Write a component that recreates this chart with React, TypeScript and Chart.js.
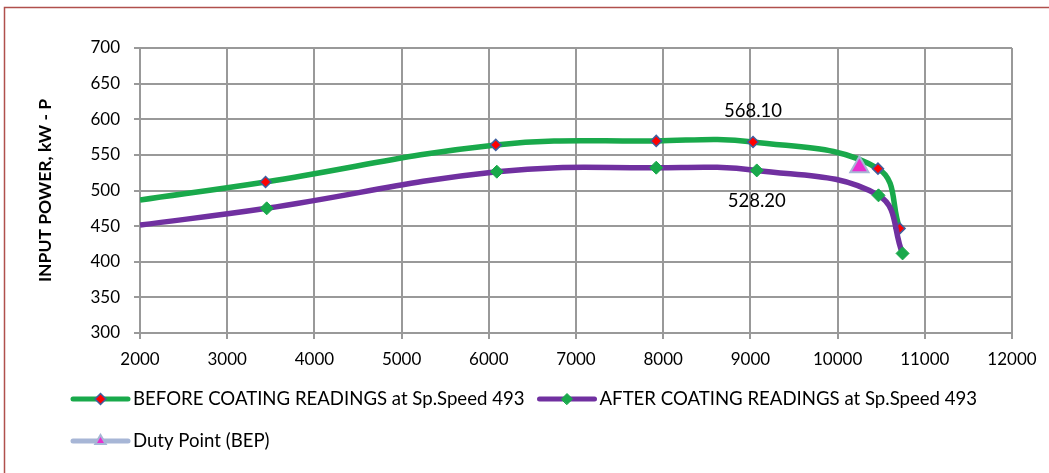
import React, { useEffect, useRef } from "react";
import { Chart, registerables } from "chart.js";
import { drawPoint } from "chart.js/helpers";

Chart.register(...registerables);

// ---- data ----
const beforeX = [2000, 3440, 6080, 7920, 9030, 10463, 10711];
const beforeY = [486.6, 512, 564, 569.6, 568.1, 530.7, 446.8];
const afterX = [2000, 3453, 6092, 7920, 9073, 10469, 10745];
const afterY = [451.5, 475, 526.4, 532, 528.2, 493.2, 411.7];
const dutyX = [10250];
const dutyY = [533];

const seriesNames = [
  "BEFORE COATING READINGS at Sp.Speed 493",
  "AFTER COATING READINGS at Sp.Speed 493",
  "Duty Point (BEP)",
];
const xTickValues = [2000, 3000, 4000, 5000, 6000, 7000, 8000, 9000, 10000, 11000, 12000];
const yTickValues = [300, 350, 400, 450, 500, 550, 600, 650, 700];
const yAxisTitle = "INPUT POWER, kW - P";
// points carrying a value label: [dataset, point index]
const labelledPoints = [
  [0, 4],
  [1, 4],
];

const FONT = "Lato, 'Open Sans', sans-serif";
const GREEN = "#19a94b";
const PURPLE = "#7030a0";
const GRID = "#999999";

function toXY(xs: number[], ys: number[]) {
  return xs.map((x, i) => ({ x, y: ys[i] }));
}

export default function App() {
  const ref = useRef<HTMLCanvasElement>(null);

  useEffect(() => {
    document.body.style.margin = "0";
    const canvas = ref.current!;

    const framePlugin = {
      id: "frame",
      beforeDraw(chart: any) {
        const ctx = chart.ctx;
        ctx.save();
        ctx.strokeStyle = "#b0504c";
        ctx.lineWidth = 1.5;
        ctx.beginPath();
        ctx.moveTo(4.5, chart.height + 10);
        ctx.lineTo(4.5, 7.5);
        ctx.lineTo(chart.width + 10, 7.5);
        ctx.stroke();
        ctx.restore();
      },
    };

    const valueLabelPlugin = {
      id: "valueLabels",
      afterDatasetsDraw(chart: any) {
        const ctx = chart.ctx;
        ctx.save();
        ctx.font = `18.5px ${FONT}`;
        ctx.fillStyle = "#000";
        ctx.textAlign = "center";
        ctx.textBaseline = "middle";
        labelledPoints.forEach(([d, i], k) => {
          const el = chart.getDatasetMeta(d).data[i];
          const v = (chart.data.datasets[d].data[i] as any).y;
          const dy = k === 0 ? -31 : 31;
          ctx.fillText(v.toFixed(2), el.x, el.y + dy);
        });
        ctx.restore();
      },
    };

    const legendPlugin = {
      id: "customLegend",
      afterDraw(chart: any) {
        const ctx = chart.ctx;
        const rows = [[0, 1], [2]];
        const rowY = [chart.chartArea.bottom + 66, chart.chartArea.bottom + 108];
        ctx.save();
        ctx.font = `18.6px ${FONT}`;
        ctx.textBaseline = "middle";
        ctx.textAlign = "left";
        rows.forEach((row, r) => {
          let x = 73;
          const y = rowY[r];
          row.forEach((d) => {
            const ds = chart.data.datasets[d];
            ctx.strokeStyle = ds.legendLine;
            ctx.lineWidth = 5;
            ctx.lineCap = "round";
            ctx.beginPath();
            ctx.moveTo(x, y);
            ctx.lineTo(x + 55, y);
            ctx.stroke();
            ctx.fillStyle = ds.pointBackgroundColor;
            ctx.strokeStyle = ds.pointBorderColor;
            ctx.lineWidth = ds.pointBorderWidth;
            drawPoint(ctx, { pointStyle: ds.pointStyle, radius: ds.legendRadius, rotation: 0, borderWidth: ds.pointBorderWidth } as any, x + 27.5, y);
            ctx.fillStyle = "#000";
            ctx.fillText(ds.label, x + 60, y);
            x += 60 + ctx.measureText(ds.label).width + 15;
          });
        });
        ctx.restore();
      },
    };

    const tickFont = { family: FONT, size: 17 };

    const chart = new Chart(canvas, {
      type: "line",
      data: {
        datasets: [
          {
            label: seriesNames[0],
            data: toXY(beforeX, beforeY),
            borderColor: GREEN,
            borderWidth: 5.5,
            tension: 0.4,
            pointStyle: "rectRot",
            pointRadius: beforeX.map((_, i) => (i === 0 ? 0 : 5.5)),
            pointBackgroundColor: "#ff0000",
            pointBorderColor: "#3f5f9f",
            pointBorderWidth: 1.5,
            order: 2,
            legendLine: GREEN,
            legendRadius: 5.5,
          } as any,
          {
            label: seriesNames[1],
            data: toXY(afterX, afterY),
            borderColor: PURPLE,
            borderWidth: 5.5,
            tension: 0.4,
            pointStyle: "rectRot",
            pointRadius: afterX.map((_, i) => (i === 0 ? 0 : 6.5)),
            pointBackgroundColor: GREEN,
            pointBorderColor: GREEN,
            pointBorderWidth: 1,
            order: 1,
            legendLine: PURPLE,
            legendRadius: 5.5,
          } as any,
          {
            label: seriesNames[2],
            data: toXY(dutyX, dutyY),
            borderColor: "#a7b6d6",
            borderWidth: 5,
            showLine: false,
            pointStyle: "triangle",
            pointRadius: 10.5,
            pointBackgroundColor: "#e92fcf",
            pointBorderColor: "#a7b6d6",
            pointBorderWidth: 2,
            order: 0,
            legendLine: "#a7b6d6",
            legendRadius: 6,
          } as any,
        ],
      },
      options: {
        responsive: false,
        animation: false,
        devicePixelRatio: 1,
        layout: { padding: { left: 0, top: 48, right: 37, bottom: 100 } },
        plugins: { legend: { display: false }, tooltip: { enabled: false } },
        scales: {
          x: {
            type: "linear",
            min: 2000,
            max: 12000,
            afterBuildTicks: (s: any) => {
              s.ticks = xTickValues.map((v) => ({ value: v }));
            },
            afterFit: (s: any) => {
              s.height = 40;
            },
            ticks: {
              font: tickFont,
              color: "#000",
              padding: 10,
              maxRotation: 0,
              callback: (v: any) => String(v),
            },
            grid: { color: GRID, lineWidth: 2, tickLength: 6, tickColor: GRID },
            border: { color: GRID, width: 2 },
          },
          y: {
            type: "linear",
            min: 300,
            max: 700,
            afterBuildTicks: (s: any) => {
              s.ticks = yTickValues.map((v) => ({ value: v }));
            },
            afterFit: (s: any) => {
              s.width = 140;
            },
            ticks: { font: tickFont, color: "#000", padding: 14, callback: (v: any) => String(v) },
            grid: { color: GRID, lineWidth: 2, tickLength: 6, tickColor: GRID },
            border: { color: GRID, width: 2 },
            title: {
              display: true,
              text: yAxisTitle,
              color: "#000",
              font: { family: FONT, size: 17.5, weight: "bold" },
              padding: { top: 34.5, bottom: 0 },
            },
          },
        },
      },
      plugins: [framePlugin, valueLabelPlugin, legendPlugin],
    });
    return () => chart.destroy();
  }, []);

  return (
    <div style={{ width: 1049, height: 473, position: "relative", background: "#fff" }}>
      <canvas ref={ref} width={1049} height={473} style={{ display: "block" }} />
    </div>
  );
}
